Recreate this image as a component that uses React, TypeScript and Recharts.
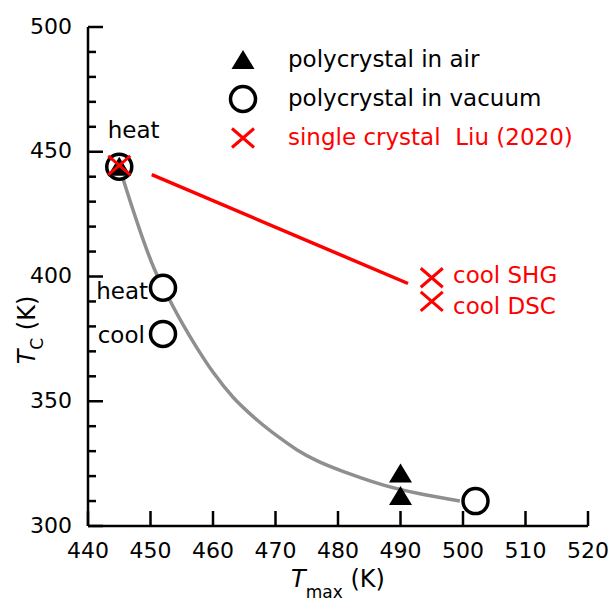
import { ComposedChart, Line, Scatter, XAxis, YAxis, Legend, ReferenceDot } from 'recharts';

// axis ticks
const X_TICKS = [440, 450, 460, 470, 480, 490, 500, 510, 520];
const Y_TICKS = [300, 310, 320, 330, 340, 350, 360, 370, 380, 390, 400, 410, 420, 430, 440, 450, 460, 470, 480, 490, 500];

// Tmax (K) vs Tc (K)
const airPoints = [{ x: 445, y: 444 }, { x: 490, y: 321 }, { x: 490, y: 312 }];
const vacuumPoints = [{ x: 445, y: 444 }, { x: 452, y: 395.5 }, { x: 452, y: 377 }, { x: 502, y: 310 }];
const singleCrystal = [{ x: 445, y: 444.5 }, { x: 495, y: 399.5 }, { x: 495, y: 390 }];
const singleTrend = [{ x: 450.2, y: 440.8 }, { x: 491.2, y: 397.2 }];
const guideCurve = [
  { x: 445, y: 444 }, { x: 450.7, y: 402.5 }, { x: 453.4, y: 389 }, { x: 455.25, y: 380.5 },
  { x: 457.4, y: 371.5 }, { x: 460.05, y: 361.5 }, { x: 463.25, y: 351.5 }, { x: 467, y: 342.6 },
  { x: 470.7, y: 335.3 }, { x: 473.4, y: 330.6 }, { x: 476.6, y: 326.2 }, { x: 481.9, y: 320.9 },
  { x: 487.3, y: 316.4 }, { x: 493.7, y: 312.6 }, { x: 499.5, y: 310 },
];

// text notes next to points
const notes = [
  { text: 'heat', x: 447.3, y: 458.7, position: 'center', color: '#000' },
  { text: 'heat', x: 449.6, y: 394.3, position: 'left', color: '#000' },
  { text: 'cool', x: 449.1, y: 376.8, position: 'left', color: '#000' },
  { text: 'cool SHG', x: 498.4, y: 400.8, position: 'right', color: '#ff0000' },
  { text: 'cool DSC', x: 498.4, y: 388.2, position: 'right', color: '#ff0000' },
];

const legendItems = [
  { name: 'polycrystal in air', marker: 'tri', color: '#000' },
  { name: 'polycrystal in vacuum', marker: 'ring', color: '#000' },
  { name: 'single crystal  Liu (2020)', marker: 'cross', color: '#ff0000' },
];

const FONT = 'DejaVu Sans';

function Ring({ cx, cy }: any) {
  return <circle cx={cx} cy={cy} r={12.5} fill="#fff" stroke="#000" strokeWidth={3.5} />;
}
function Tri({ cx, cy }: any) {
  return <polygon points={`${cx},${cy - 10} ${cx + 11.5},${cy + 9} ${cx - 11.5},${cy + 9}`} fill="#000" />;
}
function Cross({ cx, cy }: any) {
  return (
    <path d={`M${cx - 11},${cy - 9.5}L${cx + 11},${cy + 9.5}M${cx - 11},${cy + 9.5}L${cx + 11},${cy - 9.5}`}
      stroke="#ff0000" strokeWidth={3} fill="none" />
  );
}
const markers: Record<string, (p: any) => JSX.Element> = { tri: Tri, ring: Ring, cross: Cross };

// left axis: labels every 50 K, long ticks at labels, short ticks every 10 K (pointing inward)
function LeftTick({ x, y, payload }: any) {
  const major = payload.value % 50 === 0;
  const ax = x + 16;
  return (
    <g>
      <line x1={ax} x2={ax + (major ? 15 : 8)} y1={y} y2={y} stroke="#000" strokeWidth={2.5} />
      {major && <text x={x} y={y} dy="0.3em" textAnchor="end" fontSize={22} fill="#000">{payload.value}</text>}
    </g>
  );
}

function XTitle({ viewBox }: any) {
  const cx = viewBox.x + viewBox.width / 2;
  return (
    <text x={cx} y={viewBox.y + 61} textAnchor="middle" fontSize={24} fill="#000">
      <tspan fontStyle="italic">T</tspan>
      <tspan fontSize={17} dy={11}>max</tspan>
      <tspan dy={-11}> (K)</tspan>
    </text>
  );
}

function YTitle() {
  return (
    <text transform="translate(35,330) rotate(-90)" textAnchor="middle" fontSize={24} fill="#000">
      <tspan fontStyle="italic">T</tspan>
      <tspan fontSize={17} dy={8}>C</tspan>
      <tspan dy={-8}> (K)</tspan>
    </text>
  );
}

function LegendBox() {
  return (
    <div style={{ fontFamily: FONT, fontSize: 23 }}>
      {legendItems.map(it => {
        const M = markers[it.marker];
        return (
          <div key={it.name} style={{ display: 'flex', alignItems: 'center', height: 39, lineHeight: '39px', color: it.color, whiteSpace: 'pre' }}>
            <svg width={30} height={30} style={{ overflow: 'visible' }}><M cx={15} cy={15} /></svg>
            <span style={{ marginLeft: 30 }}>{it.name}</span>
          </div>
        );
      })}
    </div>
  );
}

export default function App() {
  return (
    <div style={{ position: 'absolute', left: 0, top: 0, width: 608, height: 601, background: '#fff', fontFamily: FONT }}>
      <ComposedChart width={608} height={601} margin={{ top: 27, right: 20, bottom: 35, left: 28 }}>
        <XAxis xAxisId="top" orientation="top" type="number" domain={[440, 520]} ticks={X_TICKS} allowDataOverflow
          tick={false} tickSize={-15} height={0} axisLine={{ stroke: '#000', strokeWidth: 2.5 }}
          tickLine={{ stroke: '#000', strokeWidth: 2.5 }} />
        <YAxis yAxisId="right" orientation="right" type="number" domain={[300, 500]} ticks={Y_TICKS} allowDataOverflow
          tick={false} tickSize={-7} width={0} axisLine={{ stroke: '#000', strokeWidth: 2.5 }}
          tickLine={{ stroke: '#000', strokeWidth: 2.5 }} />
        <XAxis dataKey="x" type="number" domain={[440, 520]} ticks={X_TICKS} allowDataOverflow height={40}
          tickSize={-15} tickMargin={31} tick={{ fontSize: 22, fill: '#000' }}
          axisLine={{ stroke: '#000', strokeWidth: 2.5 }} tickLine={{ stroke: '#000', strokeWidth: 2.5 }}
          label={<XTitle />} />
        <YAxis dataKey="y" type="number" domain={[300, 500]} ticks={Y_TICKS} allowDataOverflow width={60}
          tickLine={false} tickSize={0} tickMargin={16} tick={<LeftTick />} interval={0}
          axisLine={{ stroke: '#000', strokeWidth: 2.5 }} label={<YTitle />} />
        <Line data={guideCurve} dataKey="y" type="monotone" stroke="#8f8f8f" strokeWidth={3.5} dot={false} isAnimationActive={false} />
        <Line data={singleTrend} dataKey="y" type="linear" stroke="#ff0000" strokeWidth={3.5} dot={false} isAnimationActive={false} />
        <Scatter data={vacuumPoints} dataKey="y" shape={Ring} isAnimationActive={false} />
        <Scatter data={airPoints} dataKey="y" shape={Tri} isAnimationActive={false} />
        <Scatter data={singleCrystal} dataKey="y" shape={Cross} isAnimationActive={false} />
        {notes.map((n, i) => (
          <ReferenceDot key={i} x={n.x} y={n.y} r={0} fill="none" stroke="none"
            label={{ value: n.text, position: n.position, offset: 0, fontSize: 23, fill: n.color }} />
        ))}
        <Legend layout="vertical" align="center" verticalAlign="middle" content={<LegendBox />}
          wrapperStyle={{ left: 228, top: 40, width: 370 }} />
      </ComposedChart>
    </div>
  );
}
